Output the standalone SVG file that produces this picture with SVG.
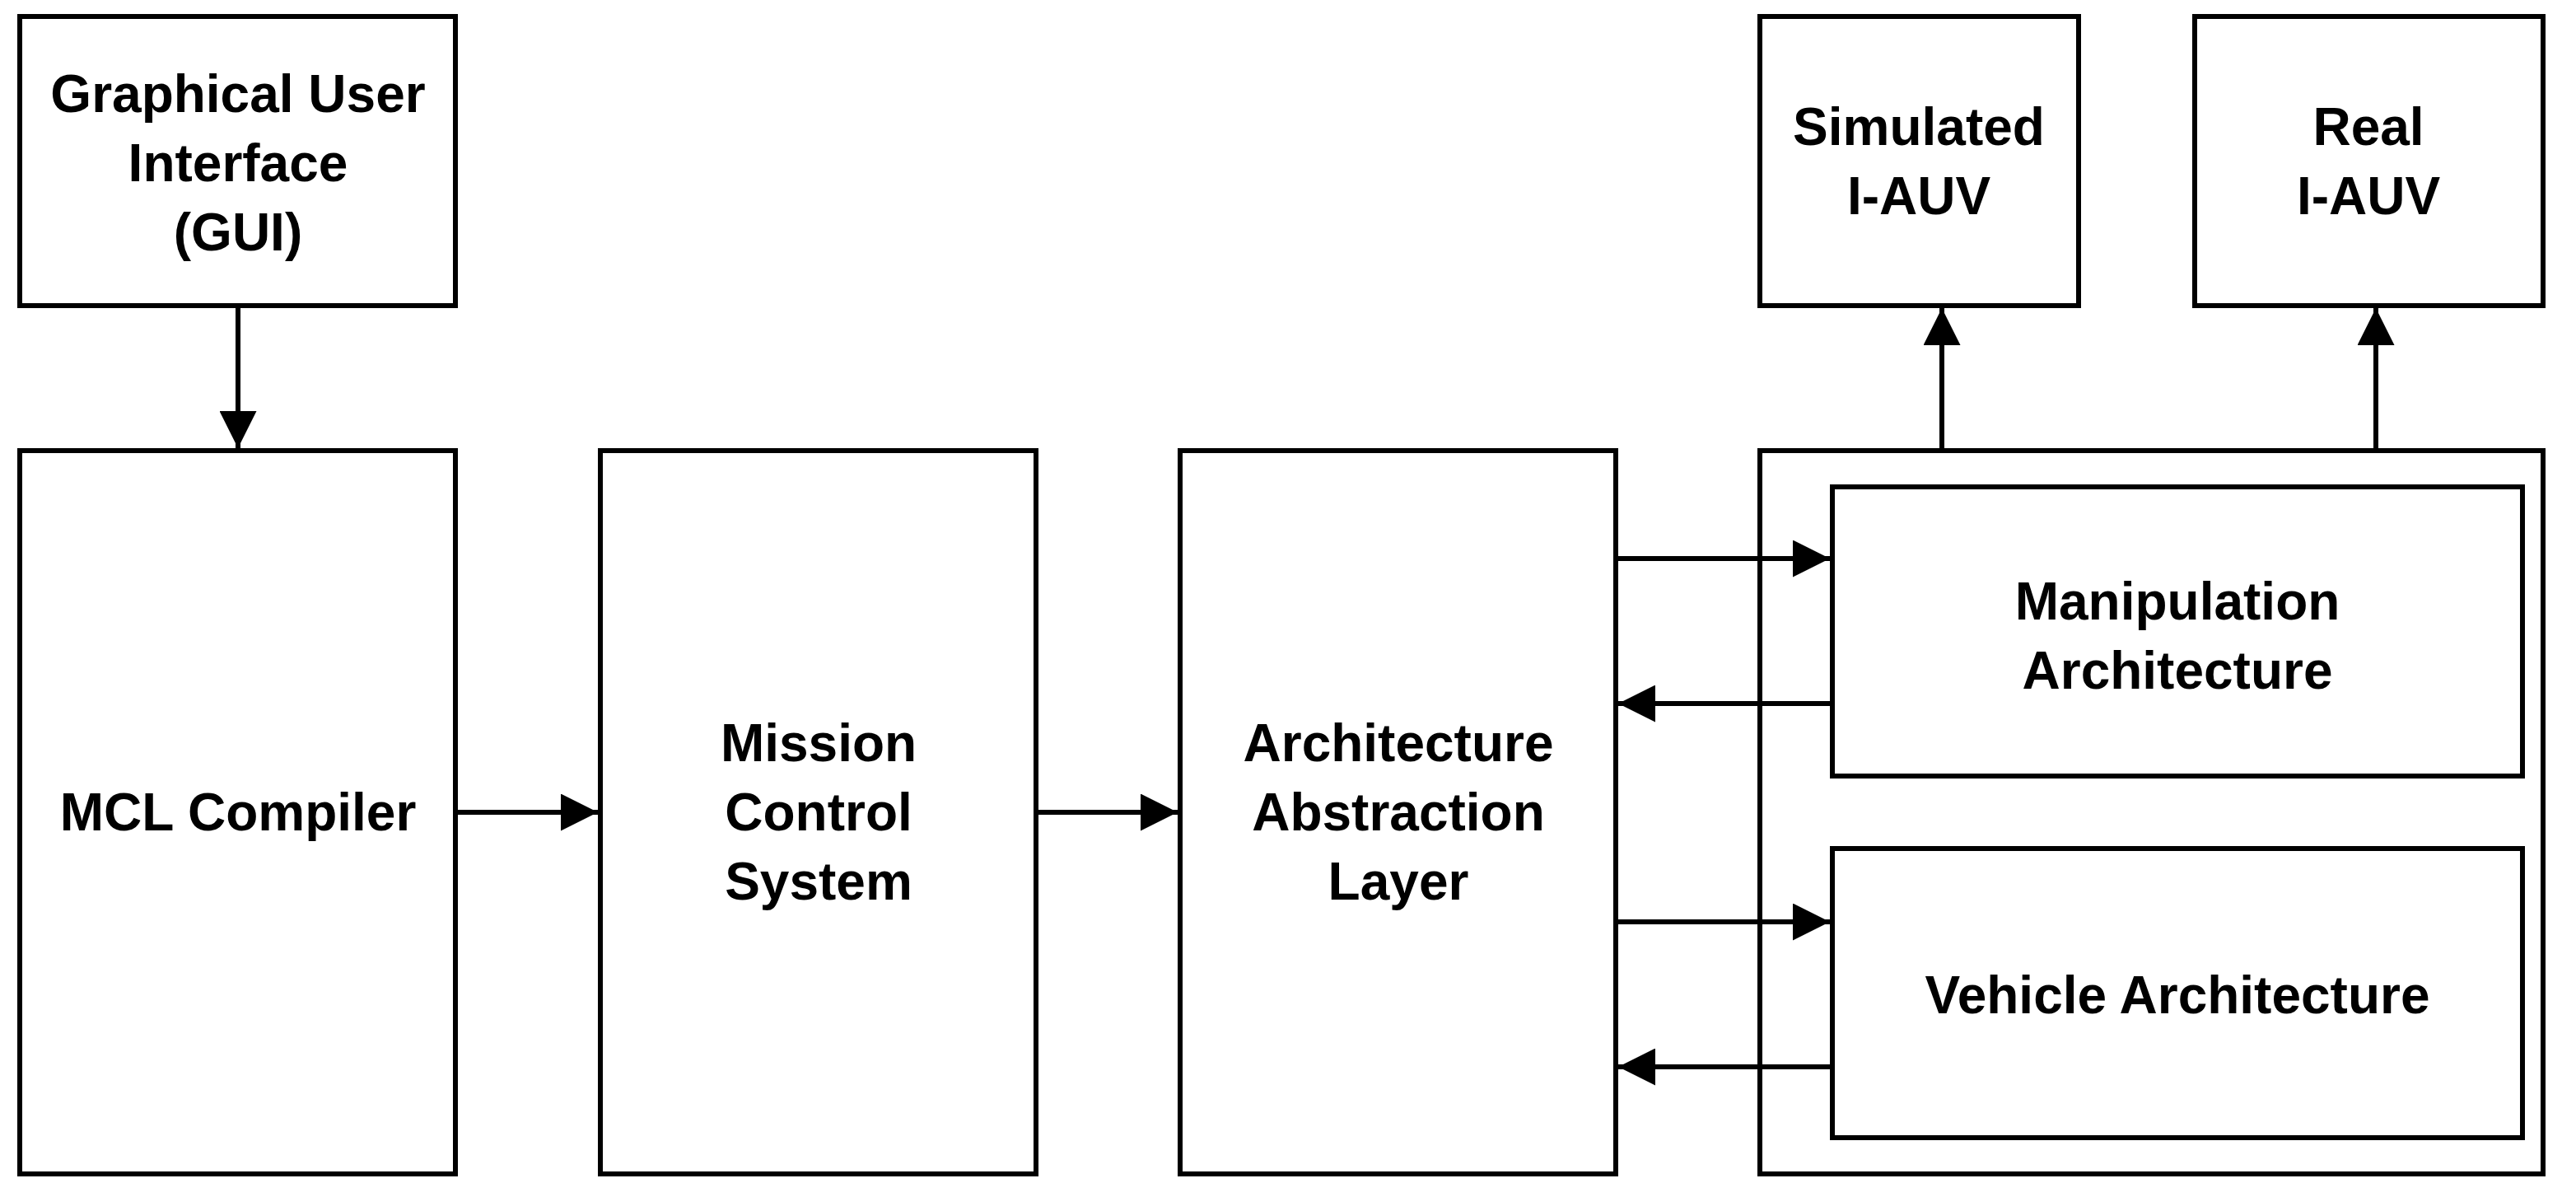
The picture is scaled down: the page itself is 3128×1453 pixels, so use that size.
<svg xmlns="http://www.w3.org/2000/svg" width="3128" height="1453" viewBox="0 0 3128 1453">
<defs>
<style>
rect{fill:#fff;stroke:#000;stroke-width:6}
text{font-family:"Liberation Sans",Arial,sans-serif;font-weight:bold;font-size:64px;text-anchor:middle;fill:#000}
.c line{stroke:#000;stroke-width:6}
</style>
<marker id="a" viewBox="0 0 10 10" refX="10" refY="5" markerWidth="7.5" markerHeight="7.5" markerUnits="strokeWidth" orient="auto"><path d="M0,0L10,5L0,10z" fill="#000"/></marker>
</defs>
<g id="gui"><rect x="24" y="20" width="529" height="351"/><text x="289" y="136">Graphical User</text><text x="289" y="220">Interface</text><text x="289" y="304">(GUI)</text></g>
<g id="mcl"><rect x="24" y="547" width="529" height="878"/><text x="289" y="1008">MCL Compiler</text></g>
<g id="mcs"><rect x="729" y="547" width="529" height="878"/><text x="994" y="924">Mission</text><text x="994" y="1008">Control</text><text x="994" y="1092">System</text></g>
<g id="aal"><rect x="1433" y="547" width="529" height="878"/><text x="1698" y="924">Architecture</text><text x="1698" y="1008">Abstraction</text><text x="1698" y="1092">Layer</text></g>
<g id="outer"><rect x="2137" y="547" width="951" height="878"/></g>
<g id="manip"><rect x="2225" y="591" width="838" height="351"/><text x="2644" y="752">Manipulation</text><text x="2644" y="836">Architecture</text></g>
<g id="veh"><rect x="2225" y="1030" width="838" height="351"/><text x="2644" y="1230">Vehicle Architecture</text></g>
<g id="sim"><rect x="2137" y="20" width="387" height="351"/><text x="2330" y="176">Simulated</text><text x="2330" y="260">I-AUV</text></g>
<g id="real"><rect x="2665" y="20" width="423" height="351"/><text x="2876" y="176">Real</text><text x="2876" y="260">I-AUV</text></g>
<g class="c">
<line x1="289" y1="371" x2="289" y2="544" marker-end="url(#a)"/>
<line x1="553" y1="986" x2="726" y2="986" marker-end="url(#a)"/>
<line x1="1258" y1="986" x2="1430" y2="986" marker-end="url(#a)"/>
<line x1="1962" y1="678" x2="2222" y2="678" marker-end="url(#a)"/>
<line x1="2225" y1="854" x2="1965" y2="854" marker-end="url(#a)"/>
<line x1="1962" y1="1119" x2="2222" y2="1119" marker-end="url(#a)"/>
<line x1="2225" y1="1295" x2="1965" y2="1295" marker-end="url(#a)"/>
<line x1="2358" y1="547" x2="2358" y2="374" marker-end="url(#a)"/>
<line x1="2885" y1="547" x2="2885" y2="374" marker-end="url(#a)"/>
</g>
</svg>
